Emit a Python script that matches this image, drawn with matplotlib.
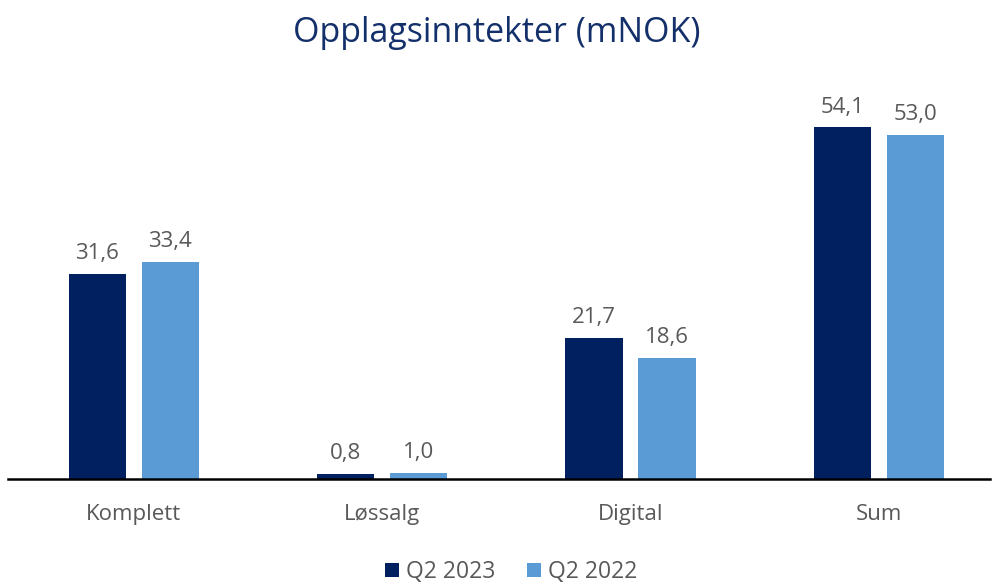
import numpy as np
from matplotlib import pyplot as plt

categories = ["Komplett", "Løssalg", "Digital", "Sum"]
q2_2023 = [31.6, 0.8, 21.7, 54.1]
q2_2022 = [33.4, 1.0, 18.6, 53.0]
series_names = ["Q2 2023", "Q2 2022"]

dark = "#002060"
light = "#5B9BD5"
grey = "#595959"

plt.rcParams["font.family"] = ["Open Sans", "DejaVu Sans"]

fig = plt.figure(figsize=(9.94, 5.85), dpi=100)
ax = fig.add_axes([8 / 994, 106 / 585, 982 / 994, 390 / 585])

x = np.arange(len(categories))
w = 0.23
off = 0.147
b1 = ax.bar(x - off, q2_2023, w, color=dark, label=series_names[0])
b2 = ax.bar(x + off, q2_2022, w, color=light, label=series_names[1])

for bars, vals in [(b1, q2_2023), (b2, q2_2022)]:
    for rect, v in zip(bars, vals):
        ax.annotate(f"{v:.1f}".replace(".", ","),
                    (rect.get_x() + rect.get_width() / 2, rect.get_height()),
                    xytext=(0, 7), textcoords="offset points",
                    ha="center", va="bottom", fontsize=16, color=grey)

ax.set_xlim(-0.507, 3.448)
ax.set_ylim(0, 60)
ax.set_xticks(x)
ax.set_xticklabels(categories, fontsize=16, color=grey)
ax.tick_params(axis="x", length=0, pad=18)
ax.set_yticks([])
for s in ["top", "right", "left"]:
    ax.spines[s].set_visible(False)
ax.spines["bottom"].set_linewidth(1.8)
ax.spines["bottom"].set_color("black")

fig.text(0.5, 1 - 33 / 585, "Opplagsinntekter (mNOK)", ha="center", va="center",
         fontsize=24.5, color="#14306B")

leg = fig.legend(loc="center", bbox_to_anchor=(511 / 994, 1 - 572 / 585), ncol=2,
                 frameon=False, fontsize=16.5, handlelength=0.6, handleheight=0.6,
                 handletextpad=0.3, columnspacing=1.4)
for t in leg.get_texts():
    t.set_color(grey)

fig.savefig("out.png", dpi=100)
